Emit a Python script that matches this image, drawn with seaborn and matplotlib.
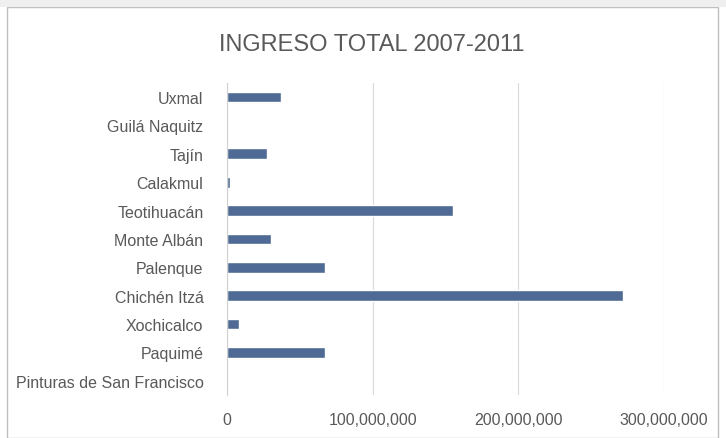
import matplotlib
matplotlib.use("Agg")
import matplotlib.pyplot as plt
import matplotlib.ticker as mticker
import pandas as pd
import seaborn as sns

sitios = ['Uxmal', 'Guilá Naquitz', 'Tajín', 'Calakmul', 'Teotihuacán', 'Monte Albán',
          'Palenque', 'Chichén Itzá', 'Xochicalco', 'Paquimé', 'Pinturas de San Francisco']
ingreso = [37000000, 0, 27500000, 2000000, 155000000, 30000000,
           67000000, 272000000, 8000000, 67000000, 0]
xticks = [0, 100000000, 200000000, 300000000]

df = pd.DataFrame({'sitio': sitios, 'ingreso': ingreso})

sns.set_style('white')
plt.rcParams['font.family'] = ['Liberation Sans Narrow', 'Liberation Sans', 'DejaVu Sans']

fig = plt.figure(figsize=(7.26, 4.39), dpi=100)
ax = fig.add_axes([0.3127, 0.098, 0.602, 0.711])

sns.barplot(data=df, x='ingreso', y='sitio', color='#4f6a94', width=0.38,
            saturation=1, ax=ax)

ax.set_xlim(0, 300000000)
ax.set_xticks(xticks)
ax.xaxis.set_major_formatter(mticker.FuncFormatter(lambda v, p: f'{int(v):,}'))
ax.grid(axis='x', color='#d9d9d9', linewidth=0.8)
ax.set_axisbelow(True)
for s in ['top', 'right', 'bottom']:
    ax.spines[s].set_visible(False)
ax.spines['left'].set_color('#d0d0d0')
ax.spines['left'].set_linewidth(0.8)
ax.tick_params(axis='both', length=0, colors='#595959', labelsize=11.5)
ax.tick_params(axis='x', pad=12)
ax.tick_params(axis='y', pad=17)
ax.set_xlabel('')
ax.set_ylabel('')

fig.text(0.512, 0.897, 'INGRESO TOTAL 2007-2011', ha='center', va='center',
         fontsize=17, color='#595959', family=['Liberation Sans', 'DejaVu Sans'])

# marco del gráfico
fig.patches.append(plt.Rectangle((0.010, 0.0), 0.979, 0.982, transform=fig.transFigure,
                                 fill=False, edgecolor='#bfbfbf', linewidth=1))
fig.patches.append(plt.Rectangle((0.0, 0.982), 1.0, 0.018, transform=fig.transFigure,
                                 facecolor='#efefef', edgecolor='none'))

fig.savefig('out.png', dpi=100)
